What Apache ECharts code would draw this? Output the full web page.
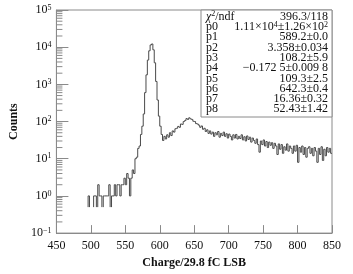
<!DOCTYPE html>
<html>
<head>
<meta charset="utf-8">
<script src="https://cdn.jsdelivr.net/npm/echarts@6/dist/echarts.min.js"></script>
<style>
  html, body { margin: 0; padding: 0; background: #fff; }
  #main { width: 353px; height: 274px; }
</style>
</head>
<body>
<div id="main"></div>
<script>
// histogram bins: 2 units wide, starting at 496
const binLow = 496;
const binWidth = 2;
const counts = [
  1, 0, 0, 0, 1, 1, 0, 2, 1, 1,
  0, 1, 1, 1, 1, 2, 0, 1, 1, 2,
  1, 2, 2, 1, 2, 2, 3, 2, 4, 3,
  1, 3, 5, 4, 10, 11, 19, 22, 45, 75,
  160, 600, 1800, 4500, 8000, 11500, 12200, 8500, 3800, 1200,
  380, 140, 75, 45, 31, 40, 34, 44, 38, 50,
  42, 56, 52, 64, 66, 74, 70, 86, 84, 100,
  106, 120, 114, 126, 118, 114, 102, 100, 88, 86,
  80, 70, 76, 62, 66, 54, 60, 48, 56, 46,
  52, 40, 50, 44, 54, 38, 48, 42, 52, 40,
  47, 36, 46, 40, 32, 44, 36, 45, 34, 40,
  35, 44, 32, 39, 30, 41, 33, 38, 28, 36,
  31, 26, 34, 24, 15, 30, 24, 32, 22, 29,
  20, 28, 23, 27, 19, 26, 22, 13, 25, 18,
  24, 14, 21, 17, 25, 16, 22, 19, 14, 22,
  16, 23, 8, 20, 15, 22, 13, 20, 11, 19,
  21, 14, 19, 12, 20, 16, 8, 19, 13, 21,
  9, 18, 12, 20, 15, 19, 14
];

// fit statistics box
const statNames = ['{i|χ}{s|2}/ndf', 'p0', 'p1', 'p2', 'p3', 'p4', 'p5', 'p6', 'p7', 'p8'];
const statValues = [
  '396.3/118',
  '1.11×10{s|4}±1.26×10{s|2}',
  '589.2±0.0',
  '3.358±0.034',
  '108.2±5.9',
  '−0.172 5±0.009 8',
  '109.3±2.5',
  '642.3±0.4',
  '16.36±0.32',
  '52.43±1.42'
];

const FONT = 'Liberation Serif';
const floorVal = 0.5; // empty bins drop to here

const histData = counts.map((c, i) => [binLow + i * binWidth, binLow + (i + 1) * binWidth, c, i > 0 ? counts[i - 1] : 0]);

// log minor ticks 2..9 x 10^k
const minorTicks = [];
for (let k = -1; k <= 4; k++) {
  for (let m = 2; m <= 9; m++) minorTicks.push([450, m * Math.pow(10, k)]);
}

const rich = {
  s: { fontSize: 8, fontFamily: FONT, color: '#111', verticalAlign: 'top', padding: [0, 0, 5, 0] },
  i: { fontSize: 12, fontFamily: FONT, fontStyle: 'italic', color: '#111' }
};

const graphics = [{
  type: 'rect',
  shape: { x: 201, y: 10, width: 131, height: 107 },
  style: { fill: '#fff', stroke: '#8a8a8a', lineWidth: 1 },
  z: 100
}];
statNames.forEach((n, i) => {
  const y = 16.7 + i * 10.28;
  graphics.push({
    type: 'text', x: 206, y: y, z: 101,
    style: { text: n, fontFamily: FONT, fontSize: 12, fill: '#111', verticalAlign: 'middle', align: 'left', rich: rich }
  });
  graphics.push({
    type: 'text', x: 328, y: y, z: 101,
    style: { text: statValues[i], fontFamily: FONT, fontSize: 12, fill: '#111', verticalAlign: 'middle', align: 'right', rich: rich }
  });
});

const chart = echarts.init(document.getElementById('main'));

chart.setOption({
  animation: false,
  textStyle: { fontFamily: FONT },
  grid: { left: 51, top: 10, right: 21, bottom: 36, show: true, borderColor: '#8a8a8a', borderWidth: 1 },
  xAxis: {
    type: 'value', min: 450, max: 850, interval: 50,
    name: 'Charge/29.8 fC LSB', nameLocation: 'middle', nameGap: 19,
    nameTextStyle: { fontFamily: FONT, fontSize: 12, fontWeight: 'bold', color: '#111' },
    axisLine: { lineStyle: { color: '#8a8a8a' } },
    axisTick: { inside: true, length: 8, lineStyle: { color: '#8a8a8a' } },
    axisLabel: { fontFamily: FONT, fontSize: 12, color: '#111', margin: 7 },
    splitLine: { show: false }
  },
  yAxis: {
    type: 'log', logBase: 10, min: 0.1, max: 100000, splitNumber: 6,
    name: 'Counts', nameLocation: 'middle', nameGap: 28,
    nameTextStyle: { fontFamily: FONT, fontSize: 12, fontWeight: 'bold', color: '#111' },
    axisLine: { show: true, lineStyle: { color: '#8a8a8a' } },
    axisTick: { inside: true, length: 12, lineStyle: { color: '#8a8a8a' } },
    axisLabel: {
      margin: 5,
      fontFamily: FONT,
      formatter: v => {
        const e = Math.round(Math.log10(v));
        return '{b|10}{e|' + (e < 0 ? '−' + (-e) : e) + '}';
      },
      rich: {
        b: { fontFamily: FONT, fontSize: 12, color: '#111' },
        e: { fontFamily: FONT, fontSize: 8, color: '#111', verticalAlign: 'top', padding: [0, 0, 5, 0] }
      }
    },
    splitLine: { show: false }
  },
  series: [
    {
      type: 'custom',
      clip: true,
      data: histData,
      encode: { x: 0, y: 2 },
      renderItem: (params, api) => {
        const x0 = api.value(0), x1 = api.value(1), c = api.value(2), p = api.value(3);
        if (c <= 0 && p <= 0) return null;
        const yc = c > 0 ? c : floorVal;
        const yp = p > 0 ? p : floorVal;
        const pts = [api.coord([x0, yp]), api.coord([x0, yc])];
        if (c > 0) pts.push(api.coord([x1, yc]));
        return { type: 'polyline', shape: { points: pts }, style: { stroke: '#4a4a4a', lineWidth: 1, fill: null } };
      }
    },
    {
      type: 'custom',
      data: minorTicks,
      silent: true,
      renderItem: (params, api) => {
        const pt = api.coord([api.value(0), api.value(1)]);
        return { type: 'line', shape: { x1: pt[0], y1: pt[1], x2: pt[0] + 6, y2: pt[1] }, style: { stroke: '#8a8a8a', lineWidth: 1 } };
      }
    }
  ],
  graphic: graphics
});
</script>
</body>
</html>
